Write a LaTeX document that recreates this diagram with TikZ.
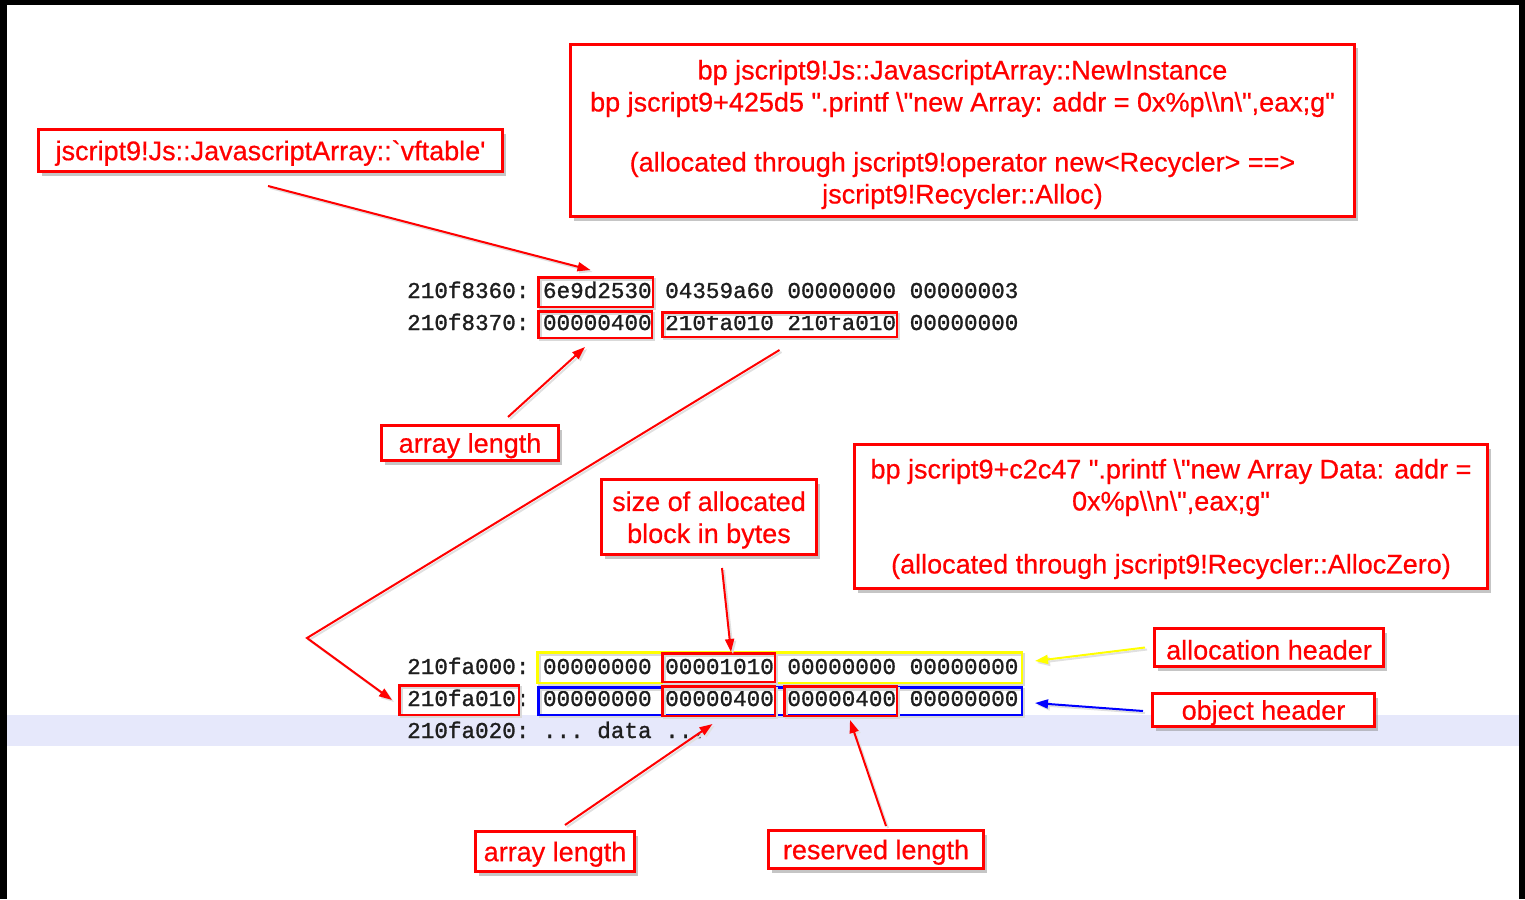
\documentclass[tikz,border=0pt]{standalone}
\usepackage{fontspec}
\setmainfont{Liberation Sans}
\newfontfamily\labfont{Liberation Sans}[FakeBold=0.6]
\newfontfamily\memfont{Liberation Mono}[FakeBold=1.2]
\usetikzlibrary{shadows,arrows.meta}
\definecolor{memtext}{RGB}{30,30,30}
\definecolor{bandblue}{RGB}{230,232,251}
\definecolor{hired}{RGB}{255,0,0}
\definecolor{hiyellow}{RGB}{255,255,0}
\definecolor{hiblue}{RGB}{0,0,255}

\tikzset{
  notetext/.style={text=hired, font=\labfont\fontsize{27}{32}\selectfont,
    align=center, inner sep=0pt},
  note/.style={draw=hired, line width=3pt, fill=white, notetext,
    execute at begin node={\rule[-1pt]{0pt}{26pt}},
    drop shadow={shadow xshift=3pt, shadow yshift=-4pt, fill=black!45, opacity=0.5}},
  memrow/.style={anchor=base west, inner sep=0pt, text=memtext,
    font=\memfont\fontsize{22.63}{32}\selectfont},
  wordbox/.style={draw=#1, line width=2.5pt, inner sep=0pt,
    preaction={draw=black!15, line width=2.5pt, transform canvas={shift={(2pt,-2pt)}}}},
  arr/.style={draw=#1, line width=2pt, -{Triangle[length=13pt,width=9pt]},
    preaction={draw=black!12, line width=2pt, -{Triangle[length=13pt,width=9pt]},
      transform canvas={shift={(2pt,-2pt)}}}},
}

% one line of the memory dump: address and four dwords at fixed columns
\newcommand\dumprow[7]{%
  \node[memrow] (#1a) at (407,#2) {#3};
  \node[memrow] (#1w1) at (542.8,#2) {#4};
  \node[memrow] (#1w2) at (665.0,#2) {#5};
  \node[memrow] (#1w3) at (787.2,#2) {#6};
  \node[memrow] (#1w4) at (909.5,#2) {#7};
}

\begin{document}
\begin{tikzpicture}[x=1pt,y=-1pt]
\useasboundingbox (0,0) rectangle (1525,899);

% highlighted line of the memory dump
\fill[bandblue] (7,715) rectangle (1519,746);

% black frame on three sides
\fill[black] (0,0) rectangle (1525,5);
\fill[black] (0,0) rectangle (7,899);
\fill[black] (1519,0) rectangle (1525,899);

% memory dump
\dumprow{r1}{298}{210f8360:}{6e9d2530}{04359a60}{00000000}{00000003}
\dumprow{r2}{330}{210f8370:}{00000400}{210fa010}{210fa010}{00000000}
\dumprow{r3}{674}{210fa000:}{00000000}{00001010}{00000000}{00000000}
\dumprow{r4}{706}{210fa010:}{00000000}{00000400}{00000400}{00000000}
\node[memrow] (r5a) at (407,738) {210fa020:};
\node[memrow] (r5b) at (542.8,738) {...};
\node[memrow] (r5c) at (597.1,738) {data};
\node[memrow] (r5d) at (665.0,738) {...};

% highlight boxes around words
\node[wordbox=hired, minimum width=114.5, minimum height=29.5] (bx1) at (595.5,292) {};
\node[wordbox=hired, minimum width=113.5, minimum height=26.5] (bx2) at (595,324.5) {};
\node[wordbox=hired, minimum width=234.5, minimum height=24.5] (bx3) at (779.5,324.5) {};
\node[wordbox=hiyellow, minimum width=484.5, minimum height=30.5] (ybox) at (779.5,667.5) {};
\node[wordbox=hiblue, minimum width=483.5, minimum height=27.5] (bbox) at (780,701) {};
\node[wordbox=hired, minimum width=112.5, minimum height=28.5] (bx4) at (718.5,667.5) {};
\node[wordbox=hired, minimum width=112.5, minimum height=29.5] (bx5) at (718.5,701) {};
\node[wordbox=hired, minimum width=112.5, minimum height=29.5] (bx6) at (840.5,701) {};
\node[wordbox=hired, minimum width=119.5, minimum height=29.5] (bx7) at (459,700) {};

% annotation boxes
\node[note, minimum width=464, minimum height=42] (vft) at (270.5,150.5)
  {jscript9!Js::JavascriptArray::`vftable'};
\node[note, minimum width=784, minimum height=172,
  label={[notetext, yshift=-4pt]center:{bp jscript9!Js::JavascriptArray::NewInstance\\
   bp jscript9+425d5 ".printf \textbackslash"new Array: addr = 0x\%p\textbackslash\textbackslash n\textbackslash",eax;g"\\[28pt]
   (allocated through jscript9!operator new<Recycler> ==>\\
   jscript9!Recycler::Alloc)}}] (bpa) at (962.5,130.5) {};
\node[note, minimum width=177, minimum height=35] (alen1) at (470,443) {array length};
\node[note, minimum width=215, minimum height=75,
  label={[notetext, yshift=-3pt]center:{size of allocated\\block in bytes}}] (bsize) at (709,517) {};
\node[note, minimum width=633, minimum height=144,
  label={[notetext, yshift=-2.5pt]center:{bp jscript9+c2c47 ".printf \textbackslash"new Array Data: addr =\\
   0x\%p\textbackslash\textbackslash n\textbackslash",eax;g"\\[31pt]
   (allocated through jscript9!Recycler::AllocZero)}}] (bpb) at (1171,516.5) {};
\node[note, minimum width=229, minimum height=38] (ahdr) at (1269,647.5) {allocation header};
\node[note, minimum width=222, minimum height=33] (ohdr) at (1263.5,710) {object header};
\node[note, minimum width=159, minimum height=40] (alen2) at (555,851.5) {array length};
\node[note, minimum width=215, minimum height=38] (rlen) at (876,849.5) {reserved length};

% connectors
\coordinate (bend) at (307,638);
\draw[arr=hired] ([shift={(-2.5pt,-13pt)}]vft.south) -- ([shift={(-5pt,6pt)}]bx1.north);
\draw[arr=hired] ([shift={(38pt,7pt)}]alen1.north) -- ([shift={(-10pt,-8pt)}]bx2.south);
\draw[arr=hired] ([yshift=-12pt]bx3.south) -- (bend) -- ([xshift=-6pt]bx7.west);
\draw[arr=hired] ([shift={(13pt,-12pt)}]bsize.south) -- ([shift={(12.5pt,0pt)}]bx4.north);
\draw[arr=hired] ([shift={(10pt,5pt)}]alen2.north) -- ([shift={(-6pt,-7pt)}]bx5.south);
\draw[arr=hired] ([shift={(10pt,3pt)}]rlen.north) -- ([shift={(9.5pt,-3pt)}]bx6.south);
\draw[arr=hiyellow] ([xshift=-8pt]ahdr.west) -- ([shift={(12pt,6.5pt)}]ybox.east);
\draw[arr=hiblue] ([shift={(-8pt,-1pt)}]ohdr.west) -- ([shift={(12pt,-2pt)}]bbox.east);
\end{tikzpicture}
\end{document}
